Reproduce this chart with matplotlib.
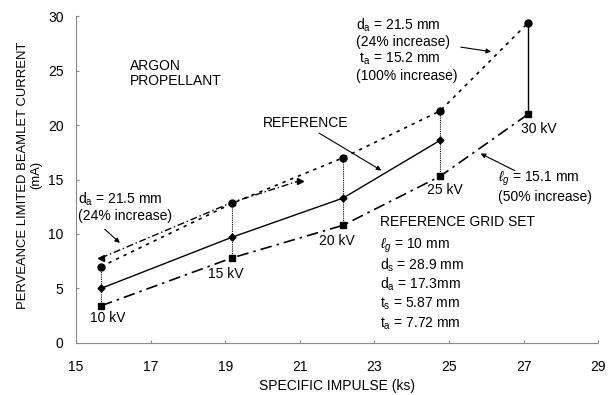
import matplotlib
matplotlib.use("Agg")
import matplotlib.pyplot as plt

plt.rcParams['font.family'] = ['Liberation Sans', 'DejaVu Sans']
plt.rcParams['mathtext.fontset'] = 'custom'
plt.rcParams['mathtext.rm'] = 'Liberation Sans'
plt.rcParams['mathtext.it'] = 'Liberation Sans:italic'

# Data
isp = [15.67, 19.18, 22.16, 24.76, 27.12]           # specific impulse (ks)
voltages = ['10 kV', '15 kV', '20 kV', '25 kV', '30 kV']
ref_current = [5.0, 9.7, 13.3, 18.6]                # reference grid set (to 25 kV)
da_ta_current = [7.0, 12.8, 17.0, 21.3, 29.4]       # da=21.5, ta=15.2
lg_current = [3.4, 7.8, 10.8, 15.3, 21.0]           # lg=15.1
da_isp = [15.67, 19.18, 21.0]
da_current = [7.8, 12.9, 14.9]                      # da=21.5 only

fig = plt.figure(figsize=(6.13, 3.95), dpi=100)
ax = fig.add_axes([0.124, 0.132, 0.852, 0.827])

ax.set_xlim(15, 29)
ax.set_ylim(0, 30)
ax.set_xticks(range(15, 30, 2))
ax.set_yticks(range(0, 31, 5))
for s in ['top', 'right']:
    ax.spines[s].set_visible(False)
for s in ['left', 'bottom']:
    ax.spines[s].set_color('#888888')
    ax.spines[s].set_linestyle((0, (1, 1)))
    ax.spines[s].set_linewidth(0.8)
ax.tick_params(direction='in', length=2, color='#888888', labelsize=10)
ax.tick_params(axis='x', pad=12)
ax.tick_params(axis='y', pad=9)

# vertical connectors
for i in range(5):
    if i < 4:
        ax.plot([isp[i], isp[i]], [lg_current[i], da_ta_current[i]], color='black',
                lw=0.8, ls=(0, (1, 1)))
    else:
        ax.plot([isp[i], isp[i]], [lg_current[i], da_ta_current[i]], color='black', lw=1.0)

ax.plot(isp[:4], ref_current, color='black', lw=1.0, marker='D', ms=3.5)
ax.plot(isp, da_ta_current, color='black', lw=1.2, ls=(0, (2, 3)), marker='o', ms=5)
ax.plot(isp, lg_current, color='black', lw=1.2, ls=(0, (7, 3, 1.5, 3)), marker='s', ms=5)
ax.plot(da_isp, da_current, color='black', lw=1.0, ls=(0, (5, 2, 1, 2)))
ax.plot(da_isp[:1], da_current[:1], color='black', ls='none', marker='<', ms=5)
ax.plot(da_isp[-1:], da_current[-1:], color='black', ls='none', marker='>', ms=5)

fs = 10
ax.text(16.45, 26.1, 'ARGON\nPROPELLANT', fontsize=fs, va='top', linespacing=1.1)
ax.text(20.0, 20.2, 'REFERENCE', fontsize=fs, va='center')
ax.annotate('', xy=(23.25, 15.7), xytext=(21.45, 19.4),
            arrowprops=dict(arrowstyle='-|>', color='black', lw=0.8, mutation_scale=7))

ax.text(22.5, 30.0, '$\\mathregular{d_a}$ = 21.5 mm\n(24% increase)\n $\\mathregular{t_a}$ = 15.2 mm\n(100% increase)',
        fontsize=fs, va='top', linespacing=1.15)
ax.annotate('', xy=(26.2, 26.7), xytext=(25.24, 27.2),
            arrowprops=dict(arrowstyle='-|>', color='black', lw=0.8, mutation_scale=7))

ax.text(15.05, 14.0, '$\\mathregular{d_a}$ = 21.5 mm\n(24% increase)', fontsize=fs, va='top',
        linespacing=1.15)
ax.annotate('', xy=(16.23, 9.0), xytext=(15.72, 10.6),
            arrowprops=dict(arrowstyle='-|>', color='black', lw=0.8, mutation_scale=7))

ax.text(26.32, 14.3, '$\\ell_g$ = 15.1 mm\n(50% increase)', fontsize=fs, va='center',
        linespacing=1.15)
ax.annotate('', xy=(25.78, 17.5), xytext=(26.83, 15.7),
            arrowprops=dict(arrowstyle='-|>', color='black', lw=0.8, mutation_scale=7))

offsets = [(-0.3, -1.15), (-0.65, -1.5), (-0.65, -1.4), (-0.35, -1.3), (-0.2, -1.35)]
for x, y, lab, (dx, dy) in zip(isp, lg_current, voltages, offsets):
    ax.text(x + dx, y + dy, lab, fontsize=fs, va='center', ha='left')

ax.text(23.15, 11.1, 'REFERENCE GRID SET', fontsize=fs, va='center')
lines = ['$\\ell_g$ = 10 mm', '$\\mathregular{d_s}$ = 28.9 mm', '$\\mathregular{d_a}$ = 17.3mm',
         '$\\mathregular{t_s}$ = 5.87 mm', '$\\mathregular{t_a}$ = 7.72 mm']
for k, t in enumerate(lines):
    ax.text(23.15, 8.9 - 1.78 * k, t, fontsize=fs, va='center')

ax.set_xlabel('SPECIFIC IMPULSE (ks)', fontsize=fs, labelpad=4)
ax.set_ylabel('PERVEANCE LIMITED BEAMLET CURRENT\n(mA)', fontsize=9.4,
              linespacing=1.2)
ax.yaxis.set_label_coords(-0.064, 0.514)

fig.savefig('out.png', dpi=100)
